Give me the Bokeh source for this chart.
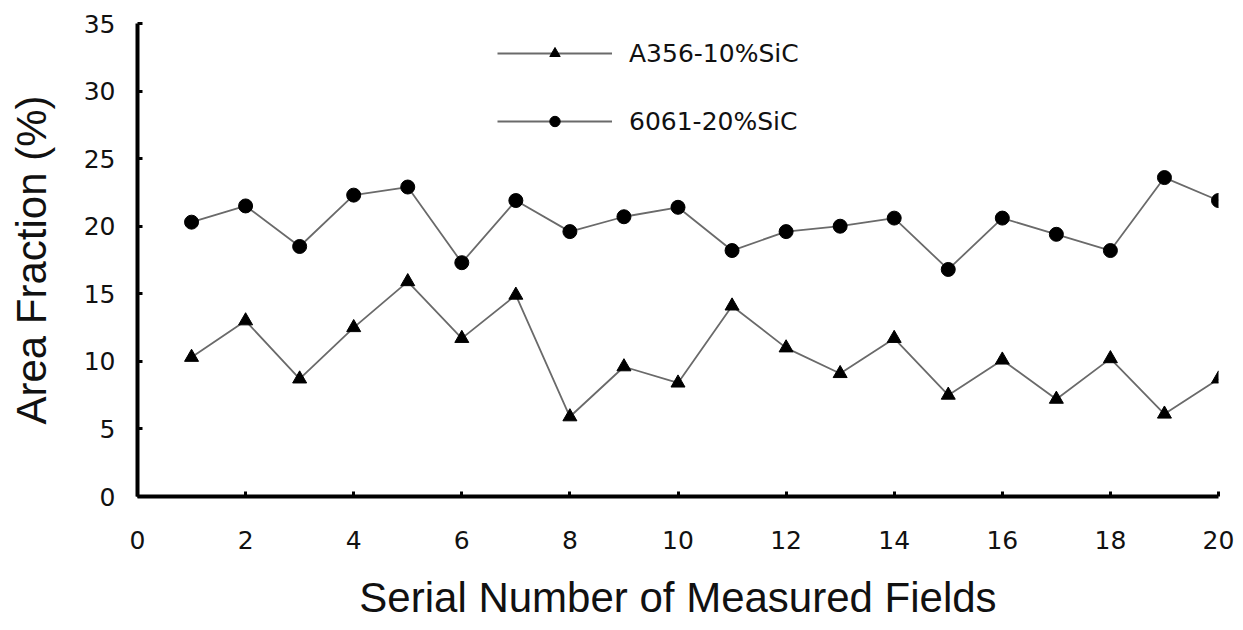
from bokeh.plotting import figure
from bokeh.models import Range1d, FixedTicker, Legend, LegendItem
from bokeh.embed import file_html
from bokeh.resources import INLINE

# Data
fields = list(range(1, 21))
a356_10sic = [10.3, 13.0, 8.7, 12.5, 15.9, 11.7, 14.9, 5.9, 9.6, 8.4,
              14.1, 11.0, 9.1, 11.7, 7.5, 10.1, 7.2, 10.2, 6.1, 8.7]
s6061_20sic = [20.3, 21.5, 18.5, 22.3, 22.9, 17.3, 21.9, 19.6, 20.7, 21.4,
               18.2, 19.6, 20.0, 20.6, 16.8, 20.6, 19.4, 18.2, 23.6, 21.9]
labels = ["A356-10%SiC", "6061-20%SiC"]
x_ticks = [0, 2, 4, 6, 8, 10, 12, 14, 16, 18, 20]
y_ticks = [0, 5, 10, 15, 20, 25, 30, 35]

p = figure(width=1243, height=630, output_backend="svg", toolbar_location=None,
           x_range=Range1d(0, 20), y_range=Range1d(0, 35),
           min_border_left=137, min_border_right=25,
           min_border_top=23, min_border_bottom=134)
p.outline_line_color = None
p.xgrid.visible = False
p.ygrid.visible = False
p.background_fill_color = "white"
p.border_fill_color = "white"

line_col = "#6a6a6a"
r1l = p.line(fields, a356_10sic, line_color=line_col, line_width=1.8)
r1m = p.scatter(fields, a356_10sic, marker="triangle", size=14,
                fill_color="black", line_color="black")
r2l = p.line(fields, s6061_20sic, line_color=line_col, line_width=1.8)
r2m = p.scatter(fields, s6061_20sic, marker="circle", size=14,
                fill_color="black", line_color="black")

for ax in (p.xaxis[0], p.yaxis[0]):
    ax.axis_line_width = 4
    ax.axis_line_color = "black"
    ax.major_tick_in = 5
    ax.major_tick_out = 0
    ax.major_tick_line_width = 3
    ax.minor_tick_line_color = None
    ax.major_label_text_font = "DejaVu Sans"
    ax.major_label_text_font_size = "25px"
    ax.major_label_text_color = "#111111"
    ax.axis_label_text_font = "Liberation Sans"
    ax.axis_label_text_font_style = "normal"
    ax.axis_label_text_font_size = "42px"
    ax.axis_label_text_color = "#111111"

p.xaxis[0].ticker = FixedTicker(ticks=x_ticks)
p.yaxis[0].ticker = FixedTicker(ticks=y_ticks)
p.xaxis[0].axis_label = "Serial Number of Measured Fields"
p.xaxis[0].axis_label_text_font_size = "42px"
p.yaxis[0].axis_label = "Area Fraction (%)"
p.xaxis[0].major_label_standoff = 34
p.xaxis[0].axis_label_standoff = 22
p.yaxis[0].major_label_standoff = 22
p.yaxis[0].axis_label_standoff = 26

legend = Legend(items=[LegendItem(label=labels[0], renderers=[r1l, r1m]),
                       LegendItem(label=labels[1], renderers=[r2l, r2m])],
                location=(360, 360), orientation="vertical",
                glyph_width=115, glyph_height=26, label_height=30,
                label_standoff=17, spacing=38, padding=0, margin=0,
                border_line_color=None, background_fill_alpha=0,
                label_text_font="DejaVu Sans", label_text_font_size="25px",
                label_text_color="#111111")
p.add_layout(legend)

open("out.html", "w").write(file_html(p, INLINE))
